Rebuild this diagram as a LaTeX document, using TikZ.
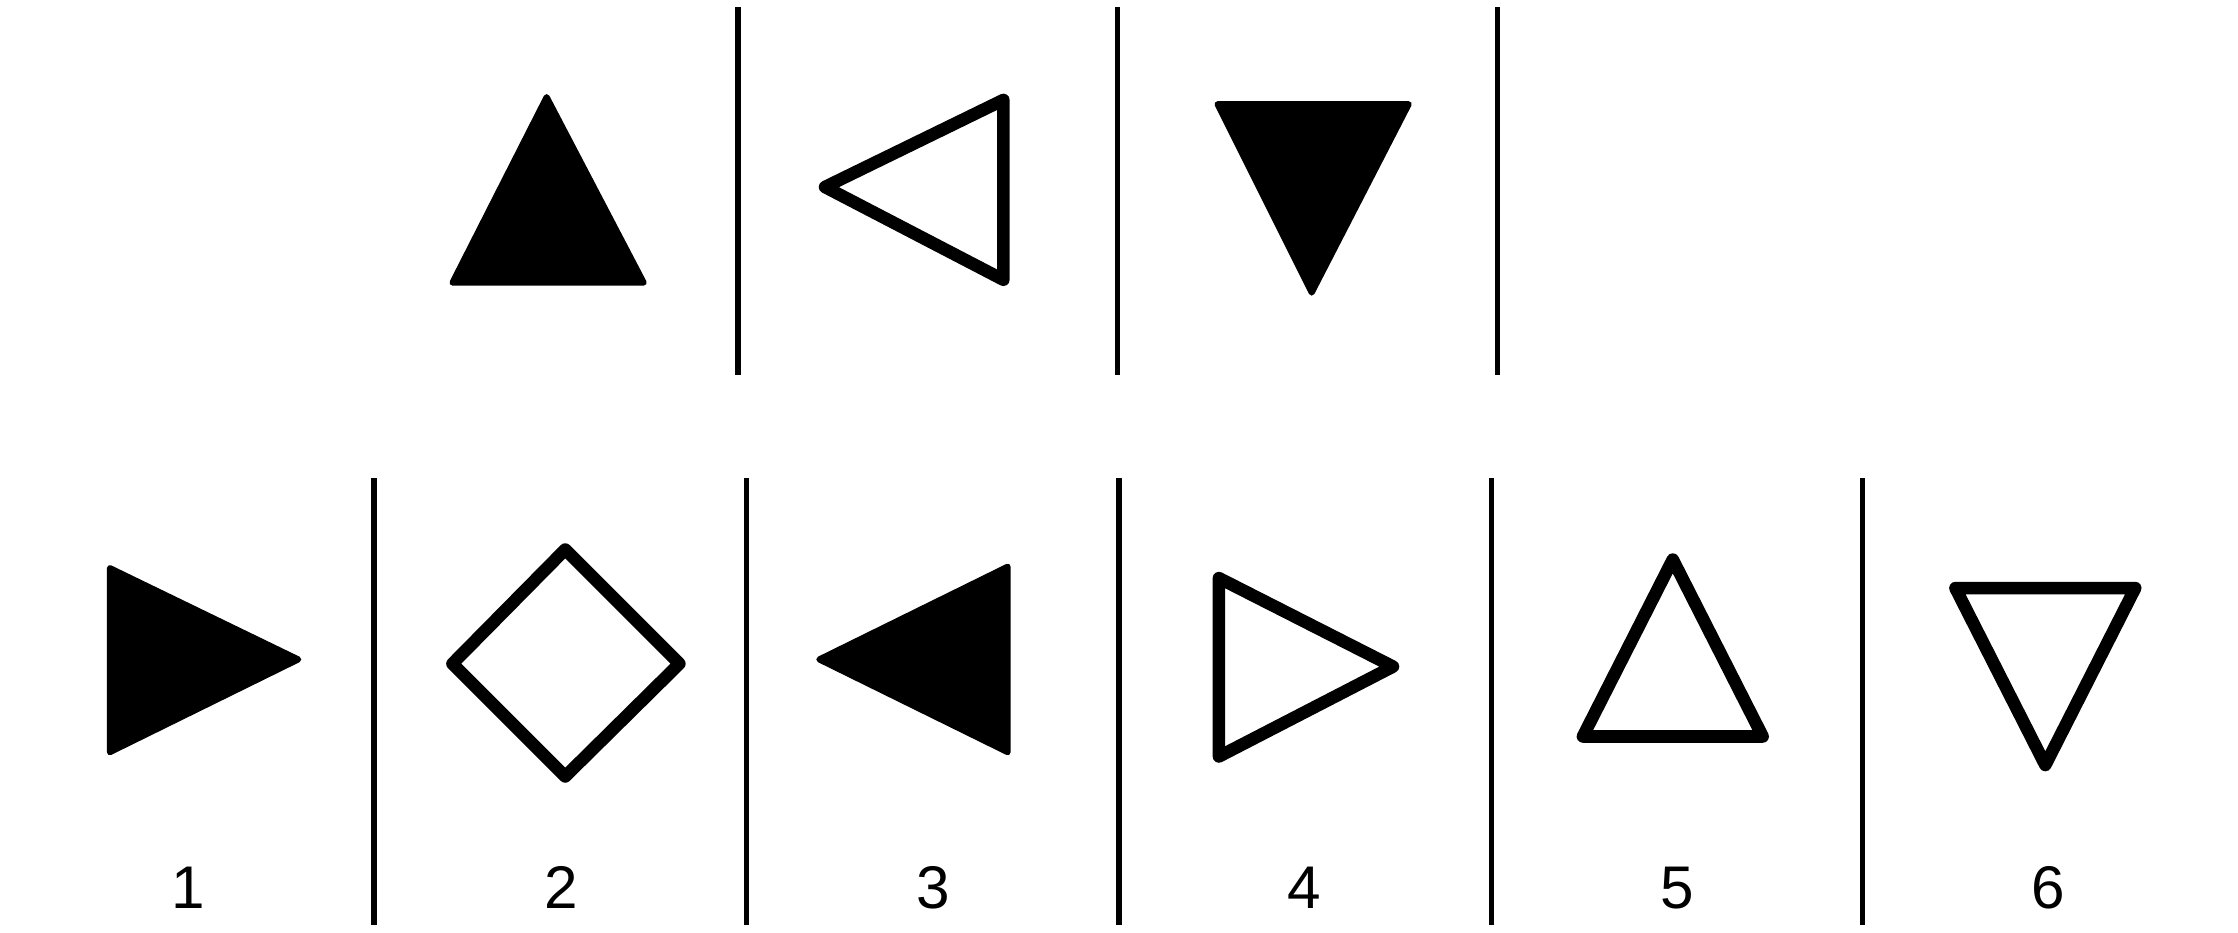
\documentclass[tikz,border=0pt]{standalone}
\usepackage{fontspec}
\setmainfont{Liberation Sans}
\usetikzlibrary{positioning}

\begin{document}
\begin{tikzpicture}[
                x=0.01cm, y=-0.01cm,
                divider/.style={draw=black, line width=1.05pt},
                solid_tri/.style={draw=black, fill=black, line width=1.2pt, line join=round},
                open_tri/.style={draw=black, fill=white, line width=2.5pt, line join=round},
                num/.style={font=\fontsize{12}{14}\selectfont, inner sep=0pt}
            ]%
            \useasboundingbox (0,0) rectangle (1568,653);
            %
            % Fila superior
            \draw[divider] (517,5) -- (517,263);
            \draw[divider] (783,5) -- (783,263);
            \draw[divider] (1049,5) -- (1049,263);
            \draw[solid_tri] (383,68) -- (451,198) -- (317,198) -- cycle;
            \draw[open_tri] (578,131) -- (703,70) -- (703,196) -- cycle;
            \draw[solid_tri] (853,73) -- (987,73) -- (919,205) -- cycle;
            %
            % Fila inferior
            \draw[divider] (262,335) -- (262,648);
            \draw[divider] (523,335) -- (523,648);
            \draw[divider] (784,335) -- (784,648);
            \draw[divider] (1045,335) -- (1045,648);
            \draw[divider] (1305,335) -- (1305,648);
            \draw[solid_tri] (77,398) -- (209,462) -- (77,527) -- cycle;
            \draw[open_tri] (396,385) -- (476,465) -- (396,544) -- (317,465) -- cycle;
            \draw[solid_tri] (574,462) -- (706,397) -- (706,527) -- cycle;
            \draw[open_tri] (854,405) -- (976,467) -- (854,530) -- cycle;
            \draw[open_tri] (1172,392) -- (1235,516) -- (1109,516) -- cycle;
            \draw[open_tri] (1370,412) -- (1496,412) -- (1433,536) -- cycle;
            %
            % Opciones
            \node[num] (opt1) at (132,622) {1};
            \node[num] (opt2) at (393,622) {2};
            \node[num] (opt3) at (654,622) {3};
            \node[num] (opt4) at (914,622) {4};
            \node[num] (opt5) at (1175,622) {5};
            \node[num] (opt6) at (1435,622) {6};
        \end{tikzpicture}
\end{document}
